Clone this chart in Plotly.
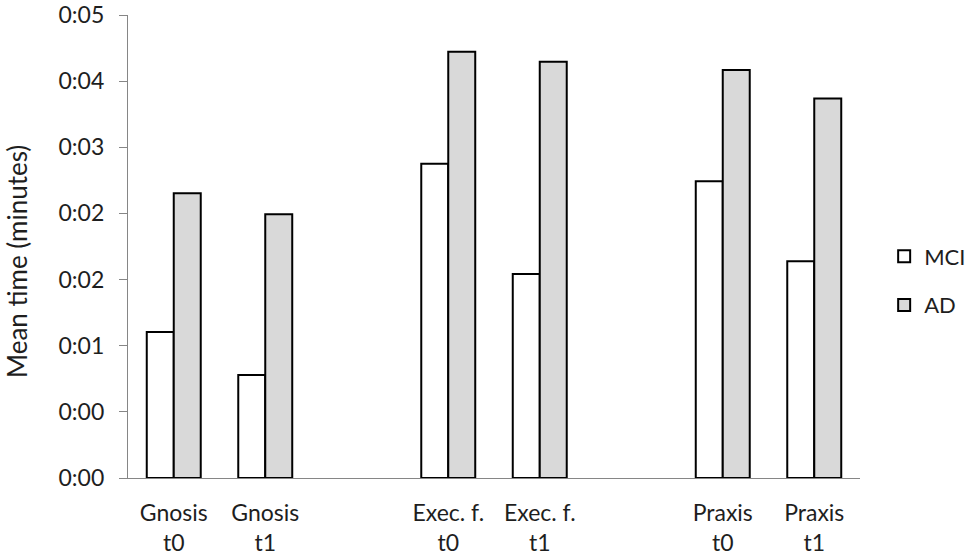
import plotly.graph_objects as go

categories = ["Gnosis<br>t0", "Gnosis<br>t1", " ", "Exec. f.<br>t0", "Exec. f.<br>t1", "  ", "Praxis<br>t0", "Praxis<br>t1"]
# mean time in seconds
mci = [1.59, 1.12, None, 3.42, 2.22, None, 3.23, 2.36]
ad = [3.10, 2.87, None, 4.64, 4.53, None, 4.44, 4.13]
tick_vals = [0, 0.72, 1.44, 2.16, 2.88, 3.60, 4.32, 5.04]
tick_text = ["0:00", "0:00", "0:01", "0:02", "0:02", "0:03", "0:04", "0:05"]
y_title = "Mean time (minutes)"

FONT = "Lato"
fig = go.Figure()
fig.add_trace(go.Bar(name="MCI", x=categories, y=mci, legendgroup="a",
                     marker=dict(color="white", line=dict(color="black", width=2))))
fig.add_trace(go.Bar(name="AD", x=categories, y=ad, legendgroup="b",
                     marker=dict(color="#d9d9d9", line=dict(color="black", width=2))))

fig.add_annotation(text=y_title, xref="paper", yref="paper", x=-0.1516, y=0.4665,
                   xanchor="center", yanchor="middle", textangle=-90, showarrow=False,
                   font=dict(family=FONT, size=26, color="#1e1e1e"))

fig.update_layout(
    width=970, height=558,
    margin=dict(l=128, r=110, t=15, b=80, autoexpand=False),
    paper_bgcolor="white", plot_bgcolor="white",
    barmode="group", bargap=0.41, bargroupgap=0,
    font=dict(family=FONT, size=23, color="#1e1e1e"),
    showlegend=True,
    legend=dict(x=1.033, xanchor="left", y=0.4255, yanchor="middle",
                tracegroupgap=17, font=dict(size=22), bgcolor="rgba(0,0,0,0)"),
    xaxis=dict(type="category", categoryorder="array", categoryarray=categories,
               range=[-0.5, 7.5], showline=True, linecolor="#868686", linewidth=1.2,
               ticks="", showgrid=False, zeroline=False, tickfont=dict(size=23),
               ticklabelstandoff=14, automargin=False),
    yaxis=dict(range=[0, 5.04], tickvals=tick_vals, ticktext=tick_text,
               showline=True, linecolor="#868686", linewidth=1.2,
               ticks="outside", ticklen=8, tickcolor="#868686", tickwidth=1.2,
               ticklabelstandoff=10, automargin=False, ticklabeloverflow="allow",
               showgrid=False, zeroline=False, tickfont=dict(size=23)),
)

fig.write_html("out.html", config={"displayModeBar": False},
               post_script="document.body.style.margin='0px';")
